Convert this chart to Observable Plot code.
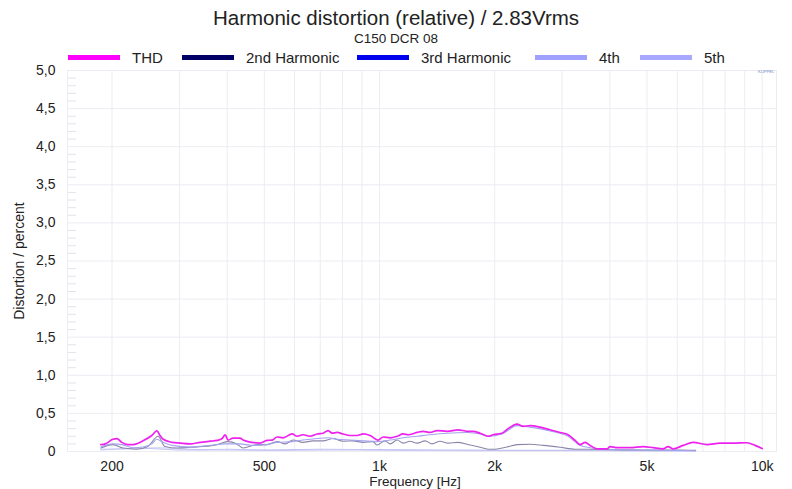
<!DOCTYPE html>
<html>
<head>
<meta charset="utf-8">
<script src="https://cdn.jsdelivr.net/npm/d3@7"></script>
<script src="https://cdn.jsdelivr.net/npm/@observablehq/plot@0.6"></script>
<style>
  html, body { margin: 0; padding: 0; background: #fff; }
  #wrap { position: relative; width: 792px; height: 489px; font-family: "Liberation Sans", Arial, sans-serif; }
  #wrap svg { position: absolute; left: 0; top: 0; }
  .ov { position: absolute; white-space: nowrap; color: #222; line-height: 1; }
</style>
</head>
<body>
<div id="wrap"></div>
<script>
const title = "Harmonic distortion (relative) / 2.83Vrms";
const subtitle = "C150 DCR 08";
const xLabel = "Frequency [Hz]";
const yLabel = "Distortion / percent";

const seriesNames = ["THD", "2nd Harmonic", "3rd Harmonic", "4th", "5th"];
const legendColors = ["#ff00ff", "#000066", "#0000ee", "#a0a0ff", "#a8a8ff"];
const lineColors = ["#ee22ee", "#8a86aa", "#a3a3ee", "#c4c4f2", "#cdcdf4"];

const xTicks = [200, 500, 1000, 2000, 5000, 10000];
const xTickLabels = ["200", "500", "1k", "2k", "5k", "10k"];
const yTicks = [0, 0.5, 1, 1.5, 2, 2.5, 3, 3.5, 4, 4.5, 5];
const yTickLabels = ["0", "0,5", "1,0", "1,5", "2,0", "2,5", "3,0", "3,5", "4,0", "4,5", "5,0"];
const xGrid = [200,300,400,500,600,700,800,900,1000,2000,3000,4000,5000,6000,7000,8000,9000,10000];
const yMinor = [0.1,0.2,0.3,0.4,0.6,0.7,0.8,0.9,1.1,1.2,1.3,1.4,1.6,1.7,1.8,1.9,2.1,2.2,2.3,2.4,2.6,2.7,2.8,2.9,3.1,3.2,3.3,3.4,3.6,3.7,3.8,3.9,4.1,4.2,4.3,4.4,4.6,4.7,4.8,4.9];

const thdFreq = [187,192,201,206,212,220,227,241,254,262,267,272,287,301,320,340,361,376,388,395,402,414,432,440,464,487,508,524,540,560,591,609,631,659,687,712,734,752,775,803,838,874,906,945,991,1022,1066,1112,1153,1188,1254,1300,1356,1414,1502,1605,1694,1756,1832,1922,1981,2089,2168,2288,2374,2475,2629,2792,2966,3110,3245,3344,3446,3551,3704,3934,4007,4178,4518,4886,5188,5510,5679,5853,6217,6603,7181,7764,8395,9134,9584,10000];
const thdVal = [0.09,0.10,0.16,0.17,0.12,0.09,0.09,0.14,0.21,0.27,0.21,0.16,0.12,0.11,0.10,0.12,0.135,0.145,0.17,0.22,0.15,0.175,0.175,0.15,0.12,0.11,0.145,0.15,0.19,0.18,0.23,0.20,0.22,0.20,0.23,0.24,0.275,0.24,0.25,0.23,0.21,0.21,0.23,0.21,0.15,0.19,0.18,0.20,0.23,0.22,0.25,0.265,0.25,0.275,0.265,0.285,0.265,0.265,0.24,0.20,0.22,0.24,0.30,0.36,0.33,0.34,0.32,0.285,0.25,0.22,0.145,0.09,0.12,0.08,0.035,0.035,0.065,0.05,0.05,0.065,0.05,0.035,0.065,0.035,0.08,0.12,0.09,0.11,0.11,0.115,0.08,0.04];

const h2Freq = [187,201,214,232,248,264,275,296,320,346,376,400,424,440,479,508,540,567,594,631,671,712,756,803,853,906,962,985,1034,1066,1112,1153,1202,1254,1316,1372,1440,1511,1605,1725,1832,1922,2005,2155,2288,2475,2677,2966,3245,3488,4000,5000,6000,6700];
const h2Val = [0.045,0.09,0.045,0.03,0.065,0.2,0.065,0.045,0.055,0.065,0.09,0.13,0.10,0.045,0.09,0.09,0.13,0.10,0.15,0.12,0.14,0.14,0.17,0.135,0.14,0.12,0.13,0.085,0.14,0.10,0.15,0.11,0.135,0.11,0.14,0.10,0.135,0.11,0.12,0.085,0.055,0.03,0.03,0.06,0.09,0.095,0.08,0.055,0.03,0.03,0.025,0.02,0.02,0.015];

const h3Freq = [187,201,212,227,241,254,262,272,287,320,361,395,432,464,508,540,591,631,687,734,775,838,906,985,1066,1153,1254,1356,1502,1694,1832,1922,2089,2288,2475,2792,3110,3344,3551,3934,4518,5188,6000,6700];
const h3Val = [0.06,0.10,0.09,0.05,0.06,0.10,0.16,0.12,0.08,0.06,0.08,0.10,0.10,0.08,0.09,0.12,0.13,0.15,0.17,0.18,0.16,0.15,0.14,0.13,0.15,0.18,0.20,0.22,0.24,0.25,0.23,0.20,0.23,0.34,0.32,0.27,0.20,0.08,0.05,0.03,0.02,0.02,0.015,0.01];

const h4Freq = [187,250,300,400,500,700,1000,1500,2000,3000,5000,6700];
const h4Val = [0.03,0.04,0.02,0.03,0.02,0.03,0.025,0.02,0.015,0.015,0.01,0.01];

const h5Freq = [187,260,350,500,800,1200,2000,4000,6700];
const h5Val = [0.02,0.05,0.02,0.015,0.02,0.015,0.01,0.01,0.005];

const seriesFreq = [thdFreq, h2Freq, h3Freq, h4Freq, h5Freq];
const seriesVal = [thdVal, h2Val, h3Val, h4Val, h5Val];

const rows = [];
seriesNames.forEach((name, i) => {
  seriesFreq[i].forEach((f, j) => rows.push({series: name, f, v: seriesVal[i][j]}));
});

const labelFor = new Map(xTicks.map((t, i) => [t, xTickLabels[i]]));
const yLabelFor = new Map(yTicks.map((t, i) => [t, yTickLabels[i]]));

const order = [4, 3, 1, 2, 0];
const lineMarks = order.map(i => Plot.line(rows.filter(r => r.series === seriesNames[i]), {
  x: "f", y: "v", stroke: lineColors[i], strokeWidth: i === 0 ? 1.7 : 1.1, curve: "monotone-x"
}));

const chart = Plot.plot({
  width: 792,
  height: 489,
  marginLeft: 67,
  marginRight: 16,
  marginTop: 70,
  marginBottom: 38,
  style: {fontFamily: "Liberation Sans, Arial, sans-serif", fontSize: "14px", color: "#222", background: "#fff"},
  x: {type: "log", domain: [153, 10900], ticks: xTicks, tickFormat: d => labelFor.get(d) ?? "", tickSize: 0, tickPadding: 10, label: null},
  y: {domain: [0, 5], ticks: yTicks, tickFormat: d => yLabelFor.get(d) ?? "", tickSize: 0, tickPadding: 12, label: null},
  marks: [
    Plot.ruleX(xGrid, {stroke: "#ececf2", strokeWidth: 1}),
    Plot.ruleY(yTicks, {stroke: "#ececf2", strokeWidth: 1}),
    Plot.tickY(yMinor, {stroke: "#e2e2e8"}),
    Plot.frame({stroke: "#ececf2"}),
    ...lineMarks
  ]
});
chart.querySelectorAll("g[aria-label='tick'] line").forEach(l => {
  l.setAttribute("x1", 67);
  l.setAttribute("x2", 76);
});
const wrap = document.getElementById("wrap");
wrap.appendChild(chart);

function ov(text, css) {
  const d = document.createElement("div");
  d.className = "ov";
  d.textContent = text;
  Object.assign(d.style, css);
  wrap.appendChild(d);
  return d;
}
ov(title, {left: "0", width: "792px", textAlign: "center", top: "8px", fontSize: "20.5px"});
ov(subtitle, {left: "0", width: "792px", textAlign: "center", top: "32px", fontSize: "13.5px"});
ov(xLabel, {left: "415px", transform: "translateX(-50%)", top: "475px", fontSize: "13.5px"});
const yl = ov(yLabel, {left: "19px", top: "261px", fontSize: "14px"});
yl.style.transform = "translate(-50%, -50%) rotate(-90deg)";

const legendX = [68, 182, 357, 535, 640];
seriesNames.forEach((name, i) => {
  const sw = document.createElement("div");
  Object.assign(sw.style, {position: "absolute", left: legendX[i] + "px", top: "55px", width: "52px", height: "5px", background: legendColors[i]});
  wrap.appendChild(sw);
  ov(name, {left: (legendX[i] + 64) + "px", top: "50px", fontSize: "15px"});
});
ov("KLIPPEL", {left: "758px", top: "70px", fontSize: "4px", color: "#6a8ac8"});
</script>
</body>
</html>
